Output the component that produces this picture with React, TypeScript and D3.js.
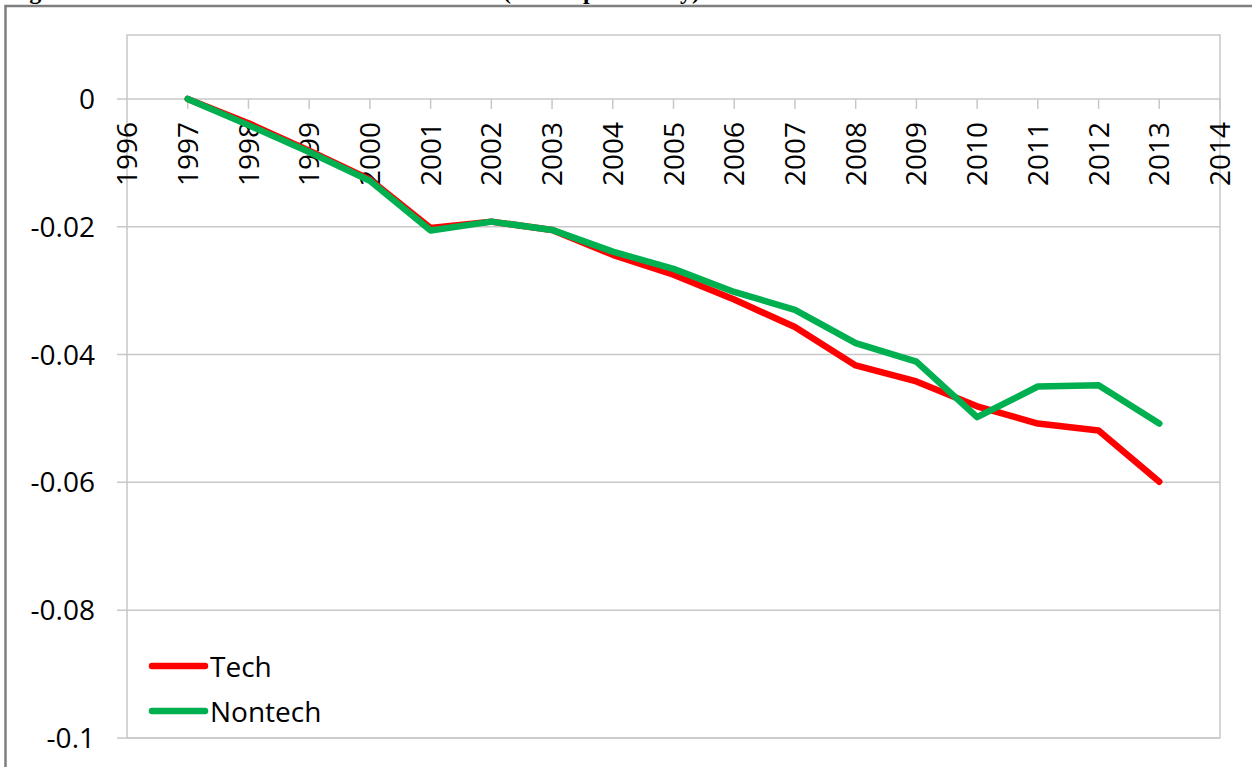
import React from "react";
import * as d3 from "d3";

// years on the category axis and the two series (change in log share, base 1997)
const years = d3.range(1996, 2015);
const dataYears = [1997, 1998, 1999, 2000, 2001, 2002, 2003, 2004, 2005, 2006, 2007, 2008, 2009, 2010, 2011, 2012, 2013];
const tech = [0, -0.0038, -0.0081, -0.0126, -0.0202, -0.0192, -0.0205, -0.0244, -0.0275, -0.0314, -0.0357, -0.0417, -0.0442, -0.0481, -0.0508, -0.0519, -0.0599];
const nontech = [0, -0.0041, -0.0083, -0.0128, -0.0206, -0.0192, -0.0205, -0.0239, -0.0266, -0.0302, -0.0330, -0.0382, -0.0411, -0.0498, -0.0450, -0.0448, -0.0508];
const yTicks = [0, -0.02, -0.04, -0.06, -0.08, -0.1];
const yTickLabels = ["0", "-0.02", "-0.04", "-0.06", "-0.08", "-0.1"];
const seriesNames = ["Tech", "Nontech"];
const seriesColors = ["#ff0000", "#00b050"];

const FONT = "'Open Sans', 'Noto Sans', sans-serif";

export default function App() {
  const width = 1252;
  const height = 767;
  const plot = { left: 127, right: 1220, top: 35, bottom: 738 };

  const x = d3.scaleLinear().domain([1996, 2014]).range([plot.left, plot.right]);
  const y = d3.scaleLinear().domain([-0.1, 0.01]).range([plot.bottom, plot.top]);

  const line = d3
    .line<number>()
    .x((d, i) => x(dataYears[i]))
    .y((d) => y(d));

  const series = [tech, nontech];
  const gridColor = "#c8c8c8";

  return (
    <svg
      width={width}
      height={height}
      style={{ position: "absolute", left: 0, top: 0, background: "#fff" }}
    >
      {/* caption cut off at the top of the picture */}
      <g fontFamily="'Liberation Serif', 'Times New Roman', serif" fontWeight="bold" fontSize={24} fill="#000">
        <text x={8} y={-1}>Figure 6. Tech and Nontech Trends</text>
        <text x={503} y={-1}>(rate</text>
        <text x={583} y={-1}>per</text>
        <text x={700} y={-1} textAnchor="end">county)</text>
      </g>

      {/* outer chart frame */}
      <path d={`M5.5,${height + 5} V6 H${width + 5}`} fill="none" stroke="#7f7f7f" strokeWidth={2.5} />

      {/* plot area frame */}
      <rect
        x={plot.left}
        y={plot.top}
        width={plot.right - plot.left}
        height={plot.bottom - plot.top}
        fill="none"
        stroke={gridColor}
        strokeWidth={1.5}
      />

      {/* horizontal gridlines + y ticks */}
      {yTicks.map((t, i) => (
        <g key={t}>
          <line x1={plot.left - 10} x2={plot.right} y1={y(t)} y2={y(t)} stroke={gridColor} strokeWidth={1.5} />
          <text
            x={95}
            y={y(t)}
            dy="0.36em"
            textAnchor="end"
            fontFamily={FONT}
            fontSize={28}
            fill="#000"
          >
            {yTickLabels[i]}
          </text>
        </g>
      ))}

      {/* x axis ticks and rotated labels */}
      {years.map((yr) => (
        <g key={yr}>
          {yr > 1996 && (
            <line x1={x(yr)} x2={x(yr)} y1={y(0)} y2={y(0) + 10} stroke={gridColor} strokeWidth={1.5} />
          )}
          <text
            transform={`translate(${x(yr)},${y(0) + 23}) rotate(-90)`}
            dy="0.36em"
            textAnchor="end"
            fontFamily={FONT}
            fontSize={28}
            fill="#000"
          >
            {yr}
          </text>
        </g>
      ))}

      {/* series lines */}
      {series.map((s, i) => (
        <path
          key={seriesNames[i]}
          d={line(s) || ""}
          fill="none"
          stroke={seriesColors[i]}
          strokeWidth={6.5}
          strokeLinejoin="round"
          strokeLinecap="round"
        />
      ))}

      {/* legend */}
      {seriesNames.map((name, i) => {
        const ly = 666 + i * 45;
        return (
          <g key={name}>
            <line x1={152} x2={205} y1={ly} y2={ly} stroke={seriesColors[i]} strokeWidth={6.5} strokeLinecap="round" />
            <text x={210} y={ly + 11} fontFamily={FONT} fontSize={28} fill="#000">
              {name}
            </text>
          </g>
        );
      })}
    </svg>
  );
}
